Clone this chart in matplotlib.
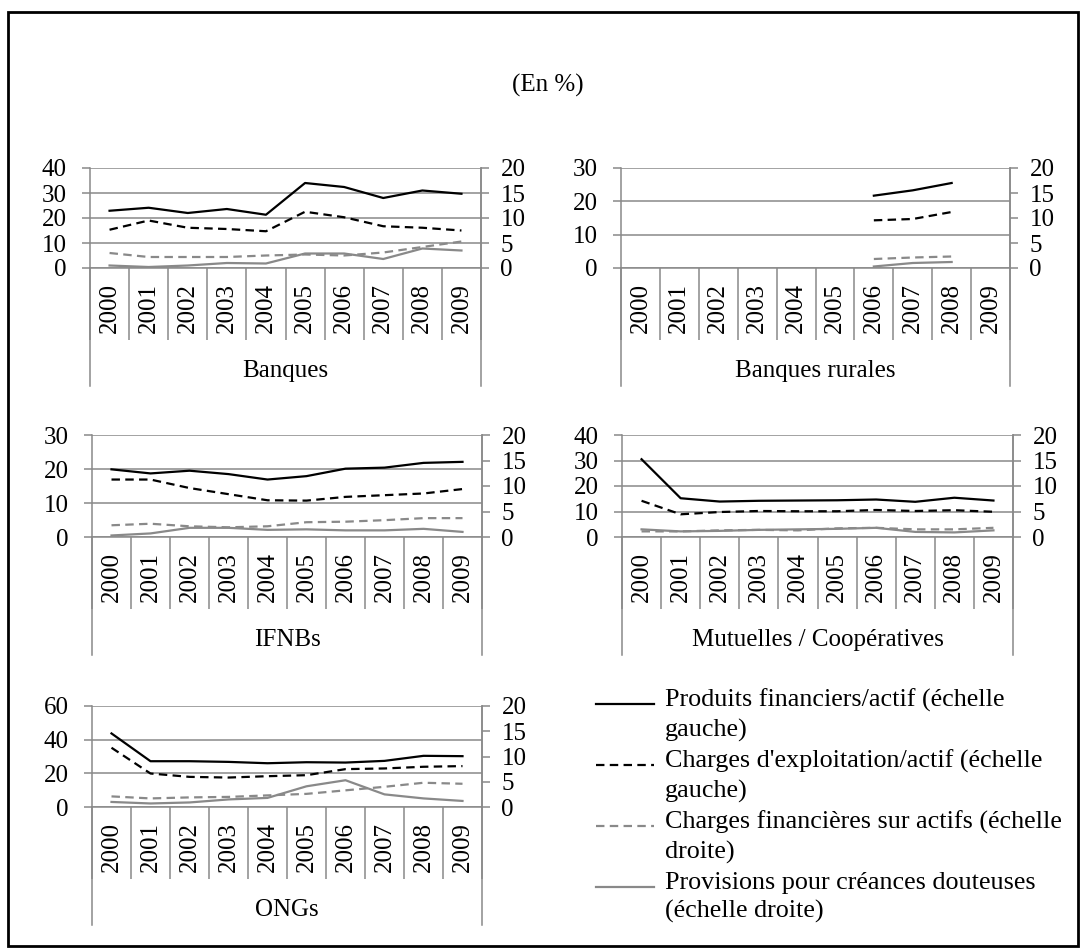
import numpy as np
import matplotlib.pyplot as plt
from matplotlib.patches import Rectangle

plt.rcParams['font.family'] = ['Liberation Serif', 'DejaVu Serif']
plt.rcParams['font.size'] = 18

W, H = 1084, 952
GRIS = '#898989'

years = [str(y) for y in range(2000, 2010)]
nan = np.nan

# valeurs (%)
banques_prod = [22.9, 24.1, 22.0, 23.6, 21.3, 34.0, 32.4, 28.0, 31.0, 29.7]
banques_expl = [15.3, 19.0, 16.1, 15.6, 14.7, 22.5, 20.3, 16.7, 16.1, 15.0]
banques_fin = [3.0, 2.2, 2.2, 2.2, 2.5, 2.7, 2.5, 3.1, 4.2, 5.3]
banques_prov = [0.5, 0.2, 0.5, 1.0, 0.9, 2.9, 2.9, 1.8, 3.9, 3.5]

rurales_prod = [nan, nan, nan, nan, nan, nan, 21.7, 23.3, 25.5, nan]
rurales_expl = [nan, nan, nan, nan, nan, nan, 14.3, 14.7, 16.8, nan]
rurales_fin = [nan, nan, nan, nan, nan, nan, 1.8, 2.1, 2.3, nan]
rurales_prov = [nan, nan, nan, nan, nan, nan, 0.3, 1.0, 1.2, nan]

ifnb_prod = [19.9, 18.7, 19.5, 18.5, 16.9, 17.9, 20.1, 20.4, 21.8, 22.1]
ifnb_expl = [16.9, 16.9, 14.4, 12.6, 10.8, 10.7, 11.8, 12.3, 12.8, 14.1]
ifnb_fin = [2.3, 2.6, 2.1, 1.9, 2.1, 2.9, 3.0, 3.3, 3.7, 3.7]
ifnb_prov = [0.3, 0.7, 1.8, 1.8, 1.4, 1.5, 1.3, 1.3, 1.6, 1.0]

mut_prod = [30.5, 15.2, 13.9, 14.2, 14.3, 14.4, 14.7, 13.8, 15.4, 14.3]
mut_expl = [14.2, 8.9, 9.8, 10.2, 10.1, 10.1, 10.6, 10.2, 10.5, 9.9]
mut_fin = [1.1, 1.1, 1.3, 1.4, 1.3, 1.7, 1.8, 1.5, 1.5, 1.8]
mut_prov = [1.5, 1.1, 1.2, 1.4, 1.5, 1.6, 1.8, 1.0, 0.9, 1.3]

ong_prod = [43.7, 27.2, 27.2, 26.8, 26.0, 26.6, 26.4, 27.4, 30.4, 30.2]
ong_expl = [35.2, 19.9, 17.9, 17.5, 18.3, 18.9, 22.5, 22.9, 23.9, 24.3]
ong_fin = [2.1, 1.7, 1.9, 2.0, 2.3, 2.6, 3.3, 4.0, 4.8, 4.6]
ong_prov = [1.0, 0.7, 0.9, 1.5, 1.8, 4.1, 5.3, 2.5, 1.7, 1.2]

legende = ["Produits financiers/actif (échelle\ngauche)",
           "Charges d'exploitation/actif (échelle\ngauche)",
           "Charges financières sur actifs (échelle\ndroite)",
           "Provisions pour créances douteuses\n(échelle droite)"]

panneaux = [
    # nom, (x0, y0, x1, y1) en pixels, max gauche, pas gauche, series
    ("Banques", (90, 168, 481, 268), 40, 10,
     banques_prod, banques_expl, banques_fin, banques_prov),
    ("Banques rurales", (621, 168, 1010, 268), 30, 10,
     rurales_prod, rurales_expl, rurales_fin, rurales_prov),
    ("IFNBs", (92, 435, 482, 537), 30, 10,
     ifnb_prod, ifnb_expl, ifnb_fin, ifnb_prov),
    ("Mutuelles / Coopératives", (622, 435, 1013, 537), 40, 10,
     mut_prod, mut_expl, mut_fin, mut_prov),
    ("ONGs", (92, 706, 482, 807), 60, 20,
     ong_prod, ong_expl, ong_fin, ong_prov),
]

styles = [dict(color='black', lw=1.6),
          dict(color='black', lw=1.6, dashes=(3.8, 2.4)),
          dict(color=GRIS, lw=1.6, dashes=(3.8, 2.4)),
          dict(color=GRIS, lw=1.6)]

fig = plt.figure(figsize=(W / 100, H / 100), dpi=100)
fig.patches.append(Rectangle((8 / W, 1 - 946 / H), 1070 / W, 934 / H,
                             transform=fig.transFigure, fill=False,
                             edgecolor='black', lw=2, zorder=-1))
fig.text(548 / W, 1 - 85 / H, "(En %)", ha='center', va='center')

x = np.arange(len(years))

for nom, (x0, y0, x1, y1), gmax, gpas, prod, expl, fin, prov in panneaux:
    h = y1 - y0
    ax = fig.add_axes([x0 / W, 1 - y1 / H, (x1 - x0) / W, h / H])
    ax.set_xlim(-0.5, 9.5)
    ax.set_ylim(0, gmax)
    ax.set_yticks(np.arange(0, gmax + 1, gpas))
    ax.yaxis.grid(True, color=GRIS, lw=1.1)
    ax.set_axisbelow(True)
    ax.spines['top'].set_visible(False)
    for s in ['left', 'right', 'bottom']:
        ax.spines[s].set_color(GRIS)
        ax.spines[s].set_linewidth(1.1)
    ax.tick_params(axis='y', direction='out', length=6, width=1.1,
                   color=GRIS, pad=11)
    # axe des catégories façon Excel
    ax.set_xticks(np.arange(-0.5, 10, 1.0))
    ax.set_xticklabels([])
    ax.tick_params(axis='x', which='major', direction='out', length=52,
                   width=1.1, color=GRIS)
    ax.set_xticks(x, minor=True)
    ax.set_xticklabels(years, minor=True, rotation=90)
    ax.tick_params(axis='x', which='minor', length=0, pad=11)
    for bord in (-0.5, 9.5):
        ax.plot([bord, bord], [0, -118 / h], transform=ax.get_xaxis_transform(),
                color=GRIS, lw=1.1, clip_on=False)
    ax.text(0.5, -103 / h, nom, transform=ax.transAxes, ha='center', va='center')

    ax.plot(x, prod, **styles[0], zorder=3)
    ax.plot(x, expl, **styles[1], zorder=3)

    ax2 = ax.twinx()
    ax2.set_ylim(0, 20)
    ax2.set_yticks(np.arange(0, 21, 5))
    for s in ['top', 'left', 'bottom']:
        ax2.spines[s].set_visible(False)
    ax2.spines['right'].set_color(GRIS)
    ax2.spines['right'].set_linewidth(1.1)
    ax2.tick_params(axis='y', direction='out', length=6, width=1.1,
                    color=GRIS, pad=8)
    ax2.plot(x, fin, **styles[2])
    ax2.plot(x, prov, **styles[3])

# légende
lax = fig.add_axes([0, 0, 1, 1], facecolor='none')
lax.set_xlim(0, W)
lax.set_ylim(H, 0)
lax.axis('off')
for i, (lab, st) in enumerate(zip(legende, styles)):
    yy = 704 + i * 61
    lax.plot([596, 654], [yy, yy], **st)
    lax.text(665, yy - 15, lab, ha='left', va='top', linespacing=1.35,
             fontsize=18.8)

fig.savefig('out.png', dpi=100)
